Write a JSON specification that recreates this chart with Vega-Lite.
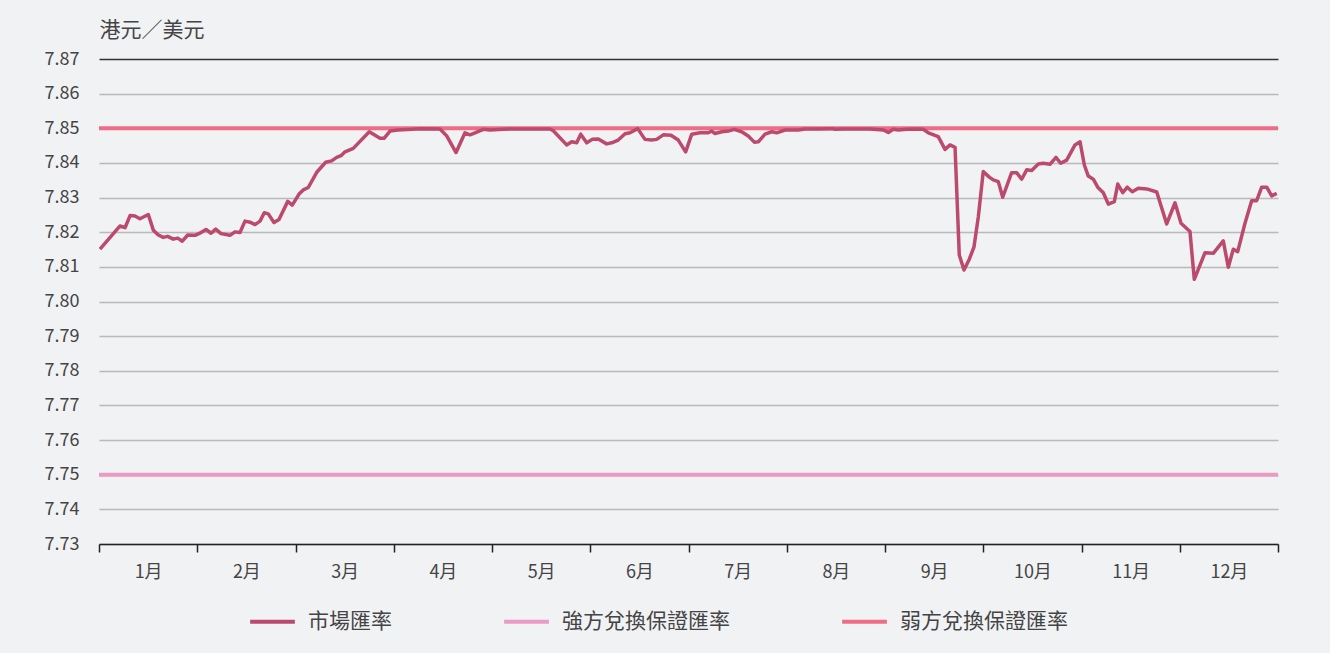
{
  "$schema": "https://vega.github.io/schema/vega-lite/v6.json",
  "width": 1179,
  "height": 485,
  "autosize": {"type": "none"},
  "padding": {"left": 99, "top": 59, "right": 52, "bottom": 109},
  "background": "#f1f2f4",
  "config": {
    "view": {"stroke": null},
    "font": "Noto Sans CJK TC",
    "axis": {"labelFont": "Noto Sans CJK TC", "titleFont": "Noto Sans CJK TC"},
    "legend": {"labelFont": "Noto Sans CJK TC"}
  },
  "encoding": {
    "x": {
      "field": "t",
      "type": "quantitative",
      "scale": {"domain": [0, 12], "nice": false, "zero": false},
      "axis": {
        "title": null,
        "values": [0, 0.5, 1, 1.5, 2, 2.5, 3, 3.5, 4, 4.5, 5, 5.5, 6, 6.5, 7, 7.5, 8, 8.5, 9, 9.5, 10, 10.5, 11, 11.5, 12],
        "labelExpr": "datum.value % 1 === 0.5 ? (floor(datum.value) + 1) + '月' : ''",
        "tickOpacity": {"condition": {"test": "datum.value % 1 !== 0", "value": 0}, "value": 1},
        "grid": false,
        "domainColor": "#222222",
        "domainWidth": 1.5,
        "tickColor": "#222222",
        "tickWidth": 1.5,
        "tickSize": 8,
        "labelFontSize": 18,
        "labelColor": "#444444",
        "labelPadding": 11,
        "labelFlush": false,
        "labelOverlap": false
      }
    },
    "y": {
      "field": "rate",
      "type": "quantitative",
      "scale": {"domain": [7.73, 7.87], "nice": false, "zero": false},
      "axis": {
        "title": "港元／美元",
        "titleAngle": 0,
        "titleX": 0,
        "titleY": -29,
        "titleAlign": "left",
        "titleBaseline": "middle",
        "titleFontSize": 21,
        "titleFontWeight": "normal",
        "titleColor": "#444444",
        "values": [7.73, 7.74, 7.75, 7.76, 7.77, 7.78, 7.79, 7.8, 7.81, 7.82, 7.83, 7.84, 7.85, 7.86, 7.87],
        "format": ".2f",
        "domain": false,
        "ticks": false,
        "labelPadding": 20,
        "labelFontSize": 18,
        "labelColor": "#444444",
        "labelOverlap": false,
        "labelBound": false,
        "gridColor": {"condition": {"test": "datum.value > 7.865", "value": "#333333"}, "value": "#b9b9bb"},
        "gridWidth": 1.5
      }
    },
    "color": {
      "field": "series",
      "type": "nominal",
      "scale": {
        "domain": ["市場匯率", "強方兌換保證匯率", "弱方兌換保證匯率"],
        "range": ["#bb4a6d", "#e99bc3", "#ef6d84"]
      },
      "legend": {
        "title": null,
        "orient": "none",
        "legendX": 149,
        "legendY": 538,
        "direction": "horizontal",
        "symbolType": "stroke",
        "symbolSize": 2000,
        "symbolStrokeWidth": 4,
        "labelFontSize": 21,
        "labelColor": "#444444",
        "labelOffset": 11,
        "columnPadding": 104,
        "labelLimit": 300
      }
    }
  },
  "layer": [
    {
      "data": {
        "values": [
          {"series": "強方兌換保證匯率", "t": 0, "rate": 7.75},
          {"series": "強方兌換保證匯率", "t": 12, "rate": 7.75},
          {"series": "弱方兌換保證匯率", "t": 0, "rate": 7.85},
          {"series": "弱方兌換保證匯率", "t": 12, "rate": 7.85}
        ]
      },
      "mark": {"type": "line", "strokeWidth": 4}
    },
    {
      "data": {
        "values": [
          {"series": "市場匯率", "t": 0.010, "rate": 7.8151},
          {"series": "市場匯率", "t": 0.214, "rate": 7.8218},
          {"series": "市場匯率", "t": 0.265, "rate": 7.8213},
          {"series": "市場匯率", "t": 0.316, "rate": 7.8248},
          {"series": "市場匯率", "t": 0.366, "rate": 7.8247},
          {"series": "市場匯率", "t": 0.417, "rate": 7.8239},
          {"series": "市場匯率", "t": 0.502, "rate": 7.8251},
          {"series": "市場匯率", "t": 0.553, "rate": 7.8206},
          {"series": "市場匯率", "t": 0.604, "rate": 7.8192},
          {"series": "市場匯率", "t": 0.654, "rate": 7.8185},
          {"series": "市場匯率", "t": 0.699, "rate": 7.8188},
          {"series": "市場匯率", "t": 0.756, "rate": 7.8180},
          {"series": "市場匯率", "t": 0.801, "rate": 7.8183},
          {"series": "市場匯率", "t": 0.848, "rate": 7.8174},
          {"series": "市場匯率", "t": 0.903, "rate": 7.8192},
          {"series": "市場匯率", "t": 0.977, "rate": 7.8191},
          {"series": "市場匯率", "t": 1.038, "rate": 7.8199},
          {"series": "市場匯率", "t": 1.089, "rate": 7.8208},
          {"series": "市場匯率", "t": 1.140, "rate": 7.8197},
          {"series": "市場匯率", "t": 1.188, "rate": 7.8209},
          {"series": "市場匯率", "t": 1.242, "rate": 7.8196},
          {"series": "市場匯率", "t": 1.333, "rate": 7.8191},
          {"series": "市場匯率", "t": 1.384, "rate": 7.8201},
          {"series": "市場匯率", "t": 1.435, "rate": 7.8199},
          {"series": "市場匯率", "t": 1.486, "rate": 7.8232},
          {"series": "市場匯率", "t": 1.537, "rate": 7.8229},
          {"series": "市場匯率", "t": 1.588, "rate": 7.8222},
          {"series": "市場匯率", "t": 1.639, "rate": 7.8232},
          {"series": "市場匯率", "t": 1.682, "rate": 7.8256},
          {"series": "市場匯率", "t": 1.723, "rate": 7.8253},
          {"series": "市場匯率", "t": 1.781, "rate": 7.8228},
          {"series": "市場匯率", "t": 1.832, "rate": 7.8237},
          {"series": "市場匯率", "t": 1.921, "rate": 7.8289},
          {"series": "市場匯率", "t": 1.967, "rate": 7.8278},
          {"series": "市場匯率", "t": 2.036, "rate": 7.8310},
          {"series": "市場匯率", "t": 2.079, "rate": 7.8322},
          {"series": "市場匯率", "t": 2.130, "rate": 7.8329},
          {"series": "市場匯率", "t": 2.216, "rate": 7.8373},
          {"series": "市場匯率", "t": 2.307, "rate": 7.8402},
          {"series": "市場匯率", "t": 2.368, "rate": 7.8406},
          {"series": "市場匯率", "t": 2.419, "rate": 7.8416},
          {"series": "市場匯率", "t": 2.463, "rate": 7.8421},
          {"series": "市場匯率", "t": 2.504, "rate": 7.8432},
          {"series": "市場匯率", "t": 2.588, "rate": 7.8442},
          {"series": "市場匯率", "t": 2.751, "rate": 7.8490},
          {"series": "市場匯率", "t": 2.860, "rate": 7.8471},
          {"series": "市場匯率", "t": 2.901, "rate": 7.8471},
          {"series": "市場匯率", "t": 2.962, "rate": 7.8492},
          {"series": "市場匯率", "t": 3.043, "rate": 7.8495},
          {"series": "市場匯率", "t": 3.183, "rate": 7.8497},
          {"series": "市場匯率", "t": 3.267, "rate": 7.8499},
          {"series": "市場匯率", "t": 3.471, "rate": 7.8498},
          {"series": "市場匯率", "t": 3.539, "rate": 7.8478},
          {"series": "市場匯率", "t": 3.634, "rate": 7.8430},
          {"series": "市場匯率", "t": 3.725, "rate": 7.8487},
          {"series": "市場匯率", "t": 3.776, "rate": 7.8481},
          {"series": "市場匯率", "t": 3.827, "rate": 7.8487},
          {"series": "市場匯率", "t": 3.911, "rate": 7.8497},
          {"series": "市場匯率", "t": 3.980, "rate": 7.8495},
          {"series": "市場匯率", "t": 4.115, "rate": 7.8497},
          {"series": "市場匯率", "t": 4.183, "rate": 7.8498},
          {"series": "市場匯率", "t": 4.590, "rate": 7.8498},
          {"series": "市場匯率", "t": 4.624, "rate": 7.8493},
          {"series": "市場匯率", "t": 4.760, "rate": 7.8452},
          {"series": "市場匯率", "t": 4.811, "rate": 7.8461},
          {"series": "市場匯率", "t": 4.862, "rate": 7.8458},
          {"series": "市場匯率", "t": 4.903, "rate": 7.8483},
          {"series": "市場匯率", "t": 4.964, "rate": 7.8458},
          {"series": "市場匯率", "t": 5.020, "rate": 7.8468},
          {"series": "市場匯率", "t": 5.082, "rate": 7.8469},
          {"series": "市場匯率", "t": 5.167, "rate": 7.8455},
          {"series": "市場匯率", "t": 5.218, "rate": 7.8458},
          {"series": "市場匯率", "t": 5.285, "rate": 7.8466},
          {"series": "市場匯率", "t": 5.354, "rate": 7.8484},
          {"series": "市場匯率", "t": 5.405, "rate": 7.8487},
          {"series": "市場匯率", "t": 5.483, "rate": 7.8499},
          {"series": "市場匯率", "t": 5.557, "rate": 7.8468},
          {"series": "市場匯率", "t": 5.625, "rate": 7.8466},
          {"series": "市場匯率", "t": 5.676, "rate": 7.8468},
          {"series": "市場匯率", "t": 5.743, "rate": 7.8481},
          {"series": "市場匯率", "t": 5.822, "rate": 7.8480},
          {"series": "市場匯率", "t": 5.896, "rate": 7.8466},
          {"series": "市場匯率", "t": 5.971, "rate": 7.8432},
          {"series": "市場匯率", "t": 6.033, "rate": 7.8483},
          {"series": "市場匯率", "t": 6.117, "rate": 7.8487},
          {"series": "市場匯率", "t": 6.201, "rate": 7.8487},
          {"series": "市場匯率", "t": 6.236, "rate": 7.8492},
          {"series": "市場匯率", "t": 6.270, "rate": 7.8485},
          {"series": "市場匯率", "t": 6.338, "rate": 7.8490},
          {"series": "市場匯率", "t": 6.405, "rate": 7.8492},
          {"series": "市場匯率", "t": 6.466, "rate": 7.8497},
          {"series": "市場匯率", "t": 6.541, "rate": 7.8490},
          {"series": "市場匯率", "t": 6.608, "rate": 7.8478},
          {"series": "市場匯率", "t": 6.670, "rate": 7.8460},
          {"series": "市場匯率", "t": 6.710, "rate": 7.8461},
          {"series": "市場匯率", "t": 6.779, "rate": 7.8483},
          {"series": "市場匯率", "t": 6.847, "rate": 7.8490},
          {"series": "市場匯率", "t": 6.898, "rate": 7.8487},
          {"series": "市場匯率", "t": 6.982, "rate": 7.8495},
          {"series": "市場匯率", "t": 7.117, "rate": 7.8495},
          {"series": "市場匯率", "t": 7.186, "rate": 7.8498},
          {"series": "市場匯率", "t": 7.321, "rate": 7.8498},
          {"series": "市場匯率", "t": 7.458, "rate": 7.8499},
          {"series": "市場匯率", "t": 7.491, "rate": 7.8497},
          {"series": "市場匯率", "t": 7.575, "rate": 7.8498},
          {"series": "市場匯率", "t": 7.847, "rate": 7.8498},
          {"series": "市場匯率", "t": 7.983, "rate": 7.8495},
          {"series": "市場匯率", "t": 8.034, "rate": 7.8488},
          {"series": "市場匯率", "t": 8.084, "rate": 7.8497},
          {"series": "市場匯率", "t": 8.135, "rate": 7.8495},
          {"series": "市場匯率", "t": 8.221, "rate": 7.8497},
          {"series": "市場匯率", "t": 8.329, "rate": 7.8498},
          {"series": "市場匯率", "t": 8.390, "rate": 7.8497},
          {"series": "市場匯率", "t": 8.441, "rate": 7.8487},
          {"series": "市場匯率", "t": 8.542, "rate": 7.8476},
          {"series": "市場匯率", "t": 8.611, "rate": 7.8439},
          {"series": "市場匯率", "t": 8.662, "rate": 7.8452},
          {"series": "市場匯率", "t": 8.713, "rate": 7.8445},
          {"series": "市場匯率", "t": 8.756, "rate": 7.8134},
          {"series": "市場匯率", "t": 8.804, "rate": 7.8091},
          {"series": "市場匯率", "t": 8.858, "rate": 7.8122},
          {"series": "市場匯率", "t": 8.906, "rate": 7.8158},
          {"series": "市場匯率", "t": 8.950, "rate": 7.8245},
          {"series": "市場匯率", "t": 9.000, "rate": 7.8375},
          {"series": "市場匯率", "t": 9.061, "rate": 7.8359},
          {"series": "市場匯率", "t": 9.102, "rate": 7.8351},
          {"series": "市場匯率", "t": 9.153, "rate": 7.8346},
          {"series": "市場匯率", "t": 9.198, "rate": 7.8301},
          {"series": "市場匯率", "t": 9.289, "rate": 7.8372},
          {"series": "市場匯率", "t": 9.340, "rate": 7.8372},
          {"series": "市場匯率", "t": 9.391, "rate": 7.8353},
          {"series": "市場匯率", "t": 9.442, "rate": 7.8380},
          {"series": "市場匯率", "t": 9.493, "rate": 7.8378},
          {"series": "市場匯率", "t": 9.560, "rate": 7.8397},
          {"series": "市場匯率", "t": 9.611, "rate": 7.8399},
          {"series": "市場匯率", "t": 9.679, "rate": 7.8396},
          {"series": "市場匯率", "t": 9.740, "rate": 7.8416},
          {"series": "市場匯率", "t": 9.788, "rate": 7.8399},
          {"series": "市場匯率", "t": 9.849, "rate": 7.8408},
          {"series": "市場匯率", "t": 9.934, "rate": 7.8452},
          {"series": "市場匯率", "t": 9.985, "rate": 7.8461},
          {"series": "市場匯率", "t": 10.029, "rate": 7.8394},
          {"series": "市場匯率", "t": 10.069, "rate": 7.8362},
          {"series": "市場匯率", "t": 10.120, "rate": 7.8353},
          {"series": "市場匯率", "t": 10.165, "rate": 7.8330},
          {"series": "市場匯率", "t": 10.222, "rate": 7.8314},
          {"series": "市場匯率", "t": 10.273, "rate": 7.8281},
          {"series": "市場匯率", "t": 10.334, "rate": 7.8288},
          {"series": "市場匯率", "t": 10.369, "rate": 7.8339},
          {"series": "市場匯率", "t": 10.420, "rate": 7.8314},
          {"series": "市場匯率", "t": 10.466, "rate": 7.8330},
          {"series": "市場匯率", "t": 10.517, "rate": 7.8317},
          {"series": "市場匯率", "t": 10.578, "rate": 7.8327},
          {"series": "市場匯率", "t": 10.664, "rate": 7.8325},
          {"series": "市場匯率", "t": 10.766, "rate": 7.8316},
          {"series": "市場匯率", "t": 10.867, "rate": 7.8224},
          {"series": "市場匯率", "t": 10.952, "rate": 7.8285},
          {"series": "市場匯率", "t": 11.013, "rate": 7.8226},
          {"series": "市場匯率", "t": 11.104, "rate": 7.8202},
          {"series": "市場匯率", "t": 11.148, "rate": 7.8064},
          {"series": "市場匯率", "t": 11.257, "rate": 7.8141},
          {"series": "市場匯率", "t": 11.341, "rate": 7.8139},
          {"series": "市場匯率", "t": 11.443, "rate": 7.8175},
          {"series": "市場匯率", "t": 11.494, "rate": 7.8099},
          {"series": "市場匯率", "t": 11.545, "rate": 7.8151},
          {"series": "市場匯率", "t": 11.590, "rate": 7.8144},
          {"series": "市場匯率", "t": 11.664, "rate": 7.8226},
          {"series": "市場匯率", "t": 11.732, "rate": 7.8291},
          {"series": "市場匯率", "t": 11.783, "rate": 7.8291},
          {"series": "市場匯率", "t": 11.834, "rate": 7.8330},
          {"series": "市場匯率", "t": 11.885, "rate": 7.8330},
          {"series": "市場匯率", "t": 11.936, "rate": 7.8305},
          {"series": "市場匯率", "t": 11.987, "rate": 7.8312}
        ]
      },
      "mark": {"type": "line", "strokeWidth": 3.5, "strokeJoin": "round"}
    }
  ]
}
